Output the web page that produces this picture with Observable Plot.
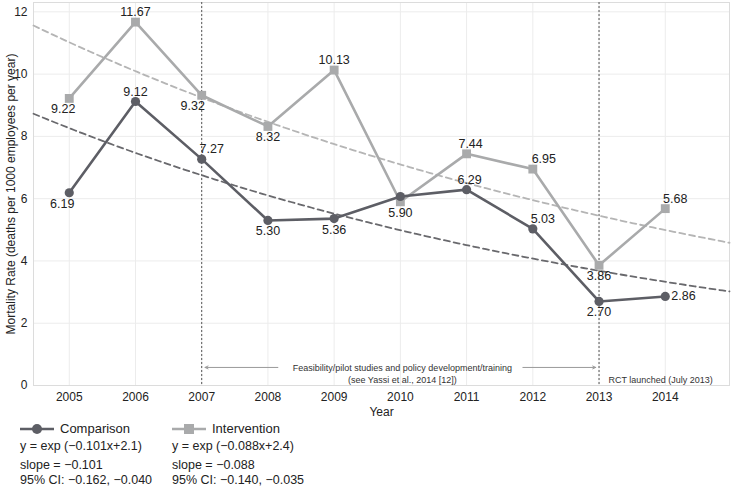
<!DOCTYPE html>
<html>
<head>
<meta charset="utf-8">
<script src="https://cdn.jsdelivr.net/npm/d3@7"></script>
<script src="https://cdn.jsdelivr.net/npm/@observablehq/plot@0.6"></script>
<style>
  body { margin: 0; background: #fff; font-family: "Liberation Sans", Arial, sans-serif; }
  #wrap { position: relative; width: 731px; height: 486px; overflow: hidden; }
  #legend { position: absolute; left: 0; top: 418px; width: 731px; height: 68px; font-size: 12.5px; color: #222; }
  .col { position: absolute; top: 0; }
  .row { position: absolute; white-space: nowrap; line-height: 12px; }
</style>
</head>
<body>
<div id="wrap">
  <div id="chart"></div>
  <div id="legend"></div>
</div>
<script>
// ---- data ----
const years = [2005, 2006, 2007, 2008, 2009, 2010, 2011, 2012, 2013, 2014];
const comparison = [6.19, 9.12, 7.27, 5.30, 5.36, 6.07, 6.29, 5.03, 2.70, 2.86];
const comparisonLabels = ["6.19", "9.12", "7.27", "5.30", "5.36", null, "6.29", "5.03", "2.70", "2.86"];
const intervention = [9.22, 11.67, 9.32, 8.32, 10.13, 5.90, 7.44, 6.95, 3.86, 5.68];
const interventionLabels = ["9.22", "11.67", "9.32", "8.32", "10.13", "5.90", "7.44", "6.95", "3.86", "5.68"];
const yTicks = [0, 2, 4, 6, 8, 10, 12];
const milestoneYears = [2007, 2013];
// fitted trends as printed on the chart: y = exp(slope*x + intercept), x = years since 2005
const comparisonSlope = -0.101, comparisonIntercept = 2.112;
const interventionSlope = -0.088, interventionIntercept = 2.4;
const annotationX = [2010.03, 2010.03, 2013.93];
const annotationY = [0.55, 0.17, 0.17];
const annotationText = [
  "Feasibility/pilot studies and policy development/training",
  "(see Yassi et al., 2014 [12])",
  "RCT launched (July 2013)"
];
const arrowX1 = [2008.15, 2011.85];
const arrowX2 = [2007.05, 2012.95];
const arrowY = [0.58, 0.58];
const legendNames = ["Comparison", "Intervention"];
const legendEquations = ["y = exp (\u22120.101x+2.1)", "y = exp (\u22120.088x+2.4)"];
const legendSlopes = ["slope = \u22120.101", "slope = \u22120.088"];
const legendCIs = ["95% CI: \u22120.162, \u22120.040", "95% CI: \u22120.140, \u22120.035"];

// ---- build tables ----
const xDomain = [2004.46, 2014.97];
const compColor = "#5d5e65", intColor = "#a9aaab";
const compTrendColor = "#69696d", intTrendColor = "#b5b5b5";
const comp = years.map((y, i) => ({year: y, v: comparison[i], label: comparisonLabels[i]}));
const intv = years.map((y, i) => ({year: y, v: intervention[i], label: interventionLabels[i]}));
const trendX = d3.range(0, 101).map(k => xDomain[0] + (xDomain[1] - xDomain[0]) * k / 100);
const compTrend = trendX.map(x => ({year: x, v: Math.exp(comparisonSlope * (x - 2005) + comparisonIntercept)}));
const intTrend = trendX.map(x => ({year: x, v: Math.exp(interventionSlope * (x - 2005) + interventionIntercept)}));
const annotations = annotationText.map((t, i) => ({x: annotationX[i], y: annotationY[i], t}));
const arrows = arrowX1.map((x, i) => ({x1: x, x2: arrowX2[i], y: arrowY[i]}));

// label placement (style, not data)
const compAbove = new Set([2006, 2007, 2011, 2012]);
const compRight = new Set([2014]);
const intAbove = new Set([2006, 2009, 2011, 2012, 2014]);
const dxMap = {"6.19": -7, "7.27": 10, "6.29": 3, "5.03": 10, "9.22": -6, "9.32": -9, "7.44": 4, "6.95": 11, "5.68": 10};

function textMark(data, dy) {
  const groups = d3.group(data, d => dxMap[d.label] || 0);
  return [...groups].map(([dx, rows]) => Plot.text(rows, {x: "year", y: "v", text: "label", dy, dx, fontSize: 12.5, fill: "#222"}));
}

const compBelowRows = comp.filter(d => d.label && !compAbove.has(d.year) && !compRight.has(d.year));
const compAboveRows = comp.filter(d => d.label && compAbove.has(d.year));
const compRightRows = comp.filter(d => d.label && compRight.has(d.year));
const intBelowRows = intv.filter(d => d.label && !intAbove.has(d.year));
const intAboveRows = intv.filter(d => d.label && intAbove.has(d.year));

const plot = Plot.plot({
  width: 731,
  height: 418,
  marginLeft: 33,
  marginRight: 2,
  marginTop: 2,
  marginBottom: 33,
  style: {fontFamily: "Liberation Sans, Arial, sans-serif", fontSize: "12px", color: "#222", background: "#fff"},
  x: {domain: xDomain, ticks: years, tickFormat: "d", tickSize: 0, tickPadding: 7, label: "Year", labelArrow: false, labelAnchor: "center", labelOffset: 30},
  y: {domain: [0, 12.3], ticks: yTicks, tickSize: 0, tickPadding: 6, label: "Mortality Rate (deaths per 1000 employees per year)", labelArrow: false, labelAnchor: "center", labelOffset: 27},
  marks: [
    Plot.gridX(years, {stroke: "#ececec", strokeOpacity: 1}),
    Plot.gridY(yTicks, {stroke: "#ececec", strokeOpacity: 1}),
    Plot.frame({stroke: "#dcdcdc"}),
    Plot.ruleX(milestoneYears, {stroke: "#555", strokeWidth: 1, strokeDasharray: "2,2"}),
    Plot.arrow(arrows, {x1: "x1", x2: "x2", y1: "y", y2: "y", stroke: "#9a9a9a", strokeWidth: 1, headLength: 5, headAngle: 50}),
    Plot.text(annotations, {x: "x", y: "y", text: "t", fontSize: 9, fill: "#333"}),
    Plot.line(intTrend, {x: "year", y: "v", stroke: intTrendColor, strokeWidth: 1.8, strokeDasharray: "6,4"}),
    Plot.line(compTrend, {x: "year", y: "v", stroke: compTrendColor, strokeWidth: 1.8, strokeDasharray: "6,4"}),
    Plot.line(intv, {x: "year", y: "v", stroke: intColor, strokeWidth: 2.6}),
    Plot.dot(intv, {x: "year", y: "v", symbol: "square", r: 5, fill: intColor}),
    Plot.line(comp, {x: "year", y: "v", stroke: compColor, strokeWidth: 2.6}),
    Plot.dot(comp, {x: "year", y: "v", symbol: "circle", r: 4.6, fill: compColor}),
    ...textMark(intBelowRows, 11),
    ...textMark(intAboveRows, -10),
    ...textMark(compBelowRows, 11),
    ...textMark(compAboveRows, -10),
    Plot.text(compRightRows, {x: "year", y: "v", text: "label", dx: 6, textAnchor: "start", fontSize: 12.5, fill: "#222"})
  ]
});
document.getElementById("chart").appendChild(plot);

// ---- legend ----
const legend = document.getElementById("legend");
const colX = [20, 172];
const colors = [compColor, intColor];
legendNames.forEach((name, i) => {
  const col = document.createElement("div");
  col.className = "col";
  col.style.left = colX[i] + "px";
  const marker = i === 0
    ? `<circle cx="17" cy="9" r="5" fill="${colors[i]}"/>`
    : `<rect x="12" y="4" width="10" height="10" fill="${colors[i]}"/>`;
  col.innerHTML = `
    <div class="row" style="top:1px;left:0;line-height:18px"><svg width="34" height="18" style="vertical-align:middle"><line x1="0" x2="34" y1="9" y2="9" stroke="${colors[i]}" stroke-width="2.6"/>${marker}</svg><span style="margin-left:6px;vertical-align:middle;font-size:13px">${name}</span></div>
    <div class="row" style="top:22px;left:0">${legendEquations[i]}</div>
    <div class="row" style="top:41px;left:0">${legendSlopes[i]}</div>
    <div class="row" style="top:56px;left:0">${legendCIs[i]}</div>`;
  legend.appendChild(col);
});
</script>
</body>
</html>
